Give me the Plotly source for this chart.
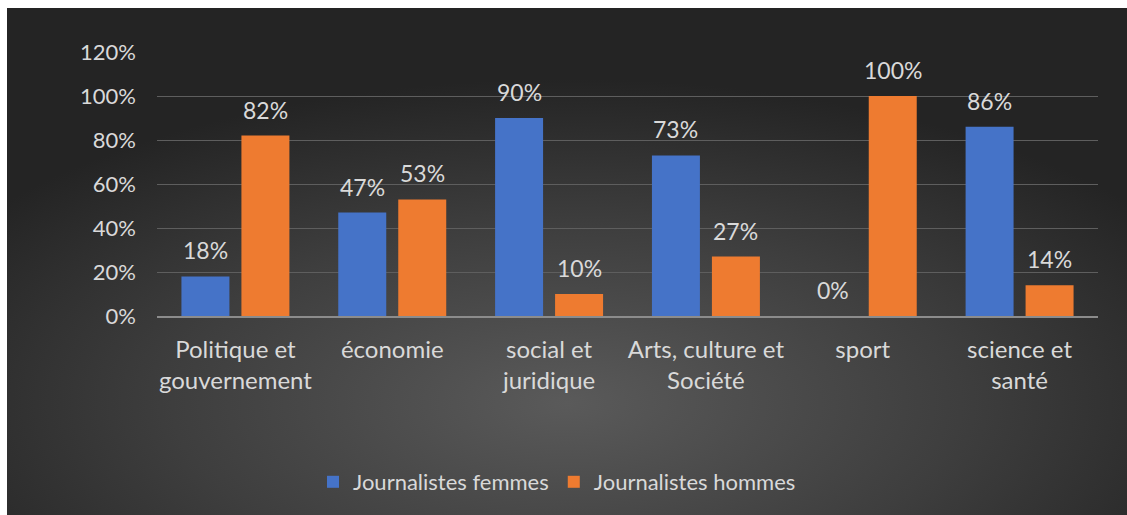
import base64
import plotly.graph_objects as go

# Répartition des sujets par genre des journalistes
categories = ["Politique et<br>gouvernement", "économie", "social et<br>juridique",
              "Arts, culture et<br>Société", "sport", "science et<br>santé"]
femmes = [0.18, 0.47, 0.90, 0.73, 0.00, 0.86]
hommes = [0.82, 0.53, 0.10, 0.27, 1.00, 0.14]
series_names = ["Journalistes femmes", "Journalistes hommes"]
y_ticks = [0, 0.2, 0.4, 0.6, 0.8, 1.0, 1.2]

W, H = 1127, 515
ML, MR, MT, MB = 157, 29, 52, 199
PW, PH = W - ML - MR, H - MT - MB

BLUE = "#4573C8"
ORANGE = "#EE7B30"
TEXT = "#d9d9d9"
FONT = "Lato"

# radial grey backdrop for the chart area
svg = """<svg xmlns='http://www.w3.org/2000/svg' width='1120' height='507' viewBox='0 0 1120 507' preserveAspectRatio='none'>
<defs><radialGradient id='g' cx='0.5' cy='0.78' r='0.64' gradientUnits='objectBoundingBox'>
<stop offset='0' stop-color='#5a5a5a'/>
<stop offset='0.55' stop-color='#3e3e3e'/>
<stop offset='1' stop-color='#242424'/>
</radialGradient></defs>
<rect width='1120' height='507' fill='url(#g)'/></svg>"""
bg_src = "data:image/svg+xml;base64," + base64.b64encode(svg.encode()).decode()

fig = go.Figure()
fig.add_trace(go.Bar(name=series_names[0], x=categories, y=femmes,
                     marker=dict(color=BLUE, line=dict(width=0))))
fig.add_trace(go.Bar(name=series_names[1], x=categories, y=hommes,
                     marker=dict(color=ORANGE, line=dict(width=0))))

# value labels above each bar
for vals, shift in ((femmes, -30), (hommes, 30)):
    for c, v in zip(categories, vals):
        fig.add_annotation(x=c, y=v, text=f"{round(v * 100)}%", showarrow=False,
                           xshift=shift, yshift=26, yanchor="middle",
                           font=dict(family=FONT, size=23, color=TEXT))

fig.add_layout_image(dict(
    source=bg_src, xref="paper", yref="paper",
    x=(7 - ML) / PW, y=(H - MB - 8) / PH,
    sizex=(W - 7) / PW, sizey=(H - 8) / PH,
    xanchor="left", yanchor="top", sizing="stretch", layer="below"))

fig.update_layout(
    width=W, height=H,
    margin=dict(l=ML, r=MR, t=MT, b=MB),
    paper_bgcolor="white",
    plot_bgcolor="rgba(0,0,0,0)",
    barmode="group", bargap=0.235, bargroupgap=0.2,
    font=dict(family=FONT, size=22, color=TEXT),
    showlegend=True,
    legend=dict(orientation="h", x=(557 - ML) / PW, xanchor="center",
                y=(H - MB - 482) / PH, yanchor="middle",
                font=dict(family=FONT, size=22, color=TEXT),
                bgcolor="rgba(0,0,0,0)"),
    xaxis=dict(showgrid=False, showline=True, linecolor="#8c8c8c", linewidth=2,
               ticks="", tickfont=dict(family=FONT, size=24, color=TEXT),
               ticklabelstandoff=11),
    yaxis=dict(range=[0, 1.2], tickvals=y_ticks, tickformat=".0%",
               showgrid=True, gridcolor="#5e5e5e", gridwidth=1, zeroline=False,
               ticks="", ticklabelstandoff=20,
               tickfont=dict(family=FONT, size=22, color=TEXT)),
)

fig.write_html("out.html")
